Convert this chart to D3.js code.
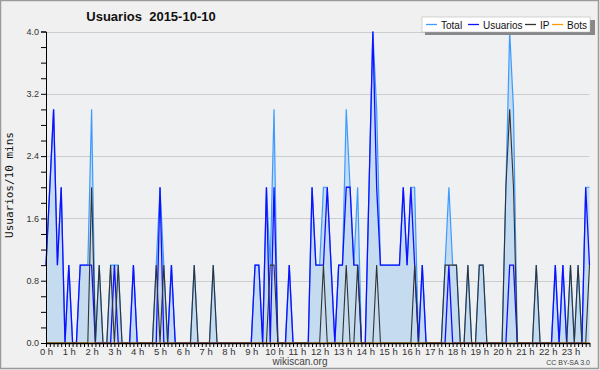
<!DOCTYPE html>
<html>
<head>
<meta charset="utf-8">
<script src="https://cdn.jsdelivr.net/npm/d3@7"></script>
<style>
body { margin:0; background:#f0f0f0; }
</style>
</head>
<body>
<div id="chart"></div>
<script>
// 10-minute slots, 144 per day
var usuarios = [1,2,3,1,2,0,1,0,0,1,1,1,1,0,0,0,0,0,1,0,0,0,0,1,0,0,0,0,0,0,
  2,0,0,1,0,0,0,0,0,0,0,0,0,0,0,0,0,0,0,0,0,0,0,0,0,1,1,0,2,0,
  2,0,0,0,1,0,0,0,0,0,2,1,1,1,2,1,0,1,1,2,2,1,1,0,0,2,4,2,1,1,
  1,1,1,1,2,1,2,1,0,1,0,0,0,0,0,0,1,0,0,0,0,0,0,0,0,0,0,0,0,0,
  0,0,1,1,0,0,0,0,0,0,0,0,0,0,1,0,1,0,0,0,0,0,2,1];
var ip = [0,0,0,0,0,0,0,0,0,0,0,0,2,0,1,0,0,1,0,1,0,0,0,0,0,0,0,0,0,1,
  0,1,0,0,0,0,0,0,0,1,0,0,0,0,1,0,0,0,0,0,0,0,0,0,0,0,0,0,0,1,
  1,0,0,0,0,0,0,0,0,0,0,0,0,1,0,0,0,0,0,1,0,0,1,0,0,0,0,1,0,0,
  0,0,0,0,0,0,0,1,0,0,0,0,0,0,0,1,1,1,1,0,0,1,0,0,1,1,0,0,0,0,
  0,2,3,2,0,0,0,0,0,1,0,0,0,0,0,0,0,0,1,0,1,0,0,1];
var bots = d3.range(144).map(function(){ return 0; });
var total = usuarios.map(function(d,i){ return d + ip[i] + bots[i]; });

var yTicks = [0,0.2,0.4,0.6,0.8,1.0,1.2,1.4,1.6,1.8,2.0,2.2,2.4,2.6,2.8,3.0,3.2,3.4,3.6,3.8,4.0];
var yLabels = [0,0.8,1.6,2.4,3.2,4.0];
var series = [
  {name:"Total", col:"#3d9bff"},
  {name:"Usuarios", col:"#1010ff"},
  {name:"IP", col:"#333"},
  {name:"Bots", col:"#ff9900"}
];

var svg = d3.select("#chart").append("svg")
  .attr("width",600)
  .attr("height",370)
  .style("display","block");

svg.append("rect")
  .attr("x",0.5).attr("y",0.5)
  .attr("width",598).attr("height",368)
  .attr("fill","#f0f0f0")
  .attr("stroke","#9a9a9a")
  .attr("stroke-width",1.5);

var x = d3.scaleLinear().domain([0,143]).range([46,589.5]);
var y = d3.scaleLinear().domain([0,4]).range([343,31.5]);

svg.append("rect")
  .attr("x",46).attr("y",31.5)
  .attr("width",543.5).attr("height",311.5)
  .attr("fill","#eef0f2");

// grid
svg.selectAll("line.grid").data(yLabels.slice(1)).enter()
  .append("line")
  .attr("class","grid")
  .attr("x1",46).attr("x2",589.5)
  .attr("y1",function(d){ return Math.round(y(d))+0.5; })
  .attr("y2",function(d){ return Math.round(y(d))+0.5; })
  .attr("stroke","#cdcdcd")
  .attr("stroke-width",1);

var idx = d3.range(144);

svg.append("path")
  .datum(idx)
  .attr("fill","#c5dcf0")
  .attr("d",d3.area()
    .x(function(i){ return x(i); })
    .y0(y(0))
    .y1(function(i){ return y(total[i]); }));

function drawLine(vals,col,w) {
  svg.append("path")
    .datum(idx)
    .attr("fill","none")
    .attr("stroke",col)
    .attr("stroke-width",w)
    .attr("stroke-linejoin","miter")
    .attr("d",d3.line()
      .x(function(i){ return x(i); })
      .y(function(i){ return y(vals[i]); }));
}

drawLine(total,series[0].col,1.2);
drawLine(usuarios,series[1].col,1.3);
drawLine(ip,series[2].col,1.1);
drawLine(bots,series[3].col,1);

// axes
var yAxis = d3.axisLeft(y)
  .tickValues(yTicks)
  .tickSize(5)
  .tickFormat(function(d){
    return (Math.round(d*10) % 8 == 0) ? d.toFixed(1) : "";
  });
var gy = svg.append("g")
  .attr("transform","translate(46,0)")
  .call(yAxis);
gy.select(".domain").attr("stroke","#000");
gy.selectAll("text")
  .attr("font-family","Liberation Sans")
  .attr("font-size","9px")
  .attr("fill","#333")
  .attr("dx","1");

var xAxis = d3.axisBottom(x)
  .tickValues(idx)
  .tickSize(4)
  .tickSizeOuter(0)
  .tickFormat(function(i){ return i % 6 == 0 ? (i/6) + " h" : ""; });
var gx = svg.append("g")
  .attr("transform","translate(0,343)")
  .call(xAxis);
gx.select(".domain").attr("stroke","#000").attr("stroke-width",1.5);
gx.selectAll("text")
  .attr("font-family","Liberation Sans")
  .attr("font-size","9.5px")
  .attr("fill","#333")
  .attr("dy","0.55em");

// titles
svg.append("text")
  .attr("x",151).attr("y",21)
  .attr("text-anchor","middle")
  .attr("font-family","Liberation Sans")
  .attr("font-weight","700")
  .attr("font-size","13px")
  .attr("fill","#111")
  .attr("xml:space","preserve")
  .text("Usuarios  2015-10-10");

svg.append("text")
  .attr("transform","translate(13,185) rotate(-90)")
  .attr("text-anchor","middle")
  .attr("font-family","DejaVu Sans Mono")
  .attr("font-size","11px")
  .attr("fill","#111")
  .text("Usuarios/10 mins");

svg.append("text")
  .attr("x",300).attr("y",365)
  .attr("text-anchor","middle")
  .attr("font-family","Liberation Sans")
  .attr("font-size","10px")
  .attr("fill","#444")
  .text("wikiscan.org");

svg.append("text")
  .attr("x",590).attr("y",365)
  .attr("text-anchor","end")
  .attr("font-family","Liberation Sans")
  .attr("font-size","7px")
  .attr("fill","#444")
  .text("CC BY-SA 3.0");

// legend
var lg = svg.append("g").attr("transform","translate(422,17)");
lg.append("rect")
  .attr("x",3).attr("y",3)
  .attr("width",170).attr("height",15)
  .attr("fill","#888");
lg.append("rect")
  .attr("x",0).attr("y",0)
  .attr("width",168).attr("height",15)
  .attr("fill","#fff")
  .attr("stroke","#aaa")
  .attr("stroke-width",0.5);

var legX = [4,46,103,130];
series.forEach(function(s,k){
  lg.append("line")
    .attr("x1",legX[k]).attr("x2",legX[k]+11)
    .attr("y1",7.5).attr("y2",7.5)
    .attr("stroke",s.col)
    .attr("stroke-width",1.3);
  lg.append("text")
    .attr("x",legX[k]+15).attr("y",11.5)
    .attr("font-family","Liberation Sans")
    .attr("font-size","10px")
    .attr("fill","#111")
    .text(s.name);
});
</script>
</body>
</html>
